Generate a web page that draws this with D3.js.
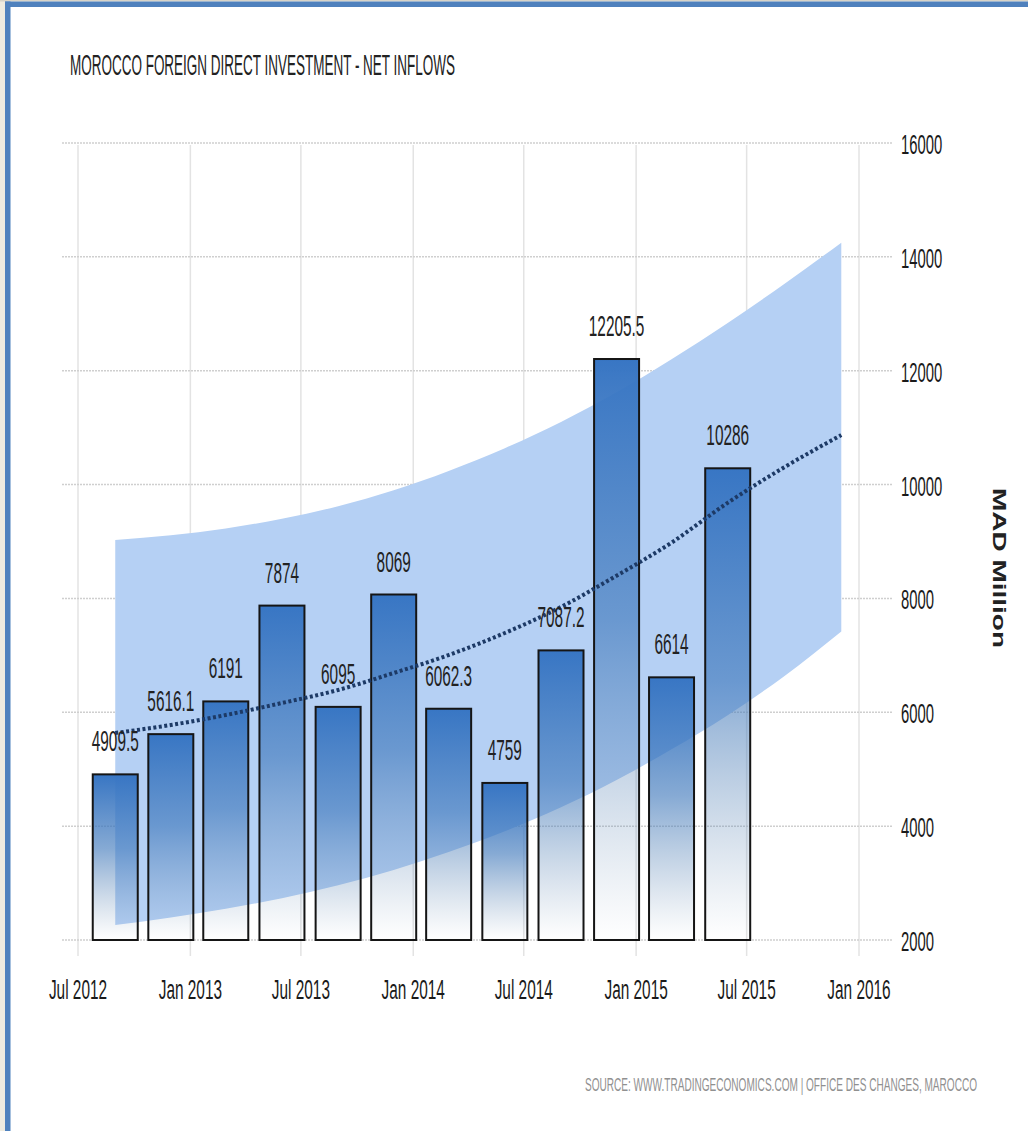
<!DOCTYPE html>
<html>
<head>
<meta charset="utf-8">
<script src="https://cdn.jsdelivr.net/npm/d3@7/dist/d3.min.js"></script>
<style>
  html, body { margin: 0; padding: 0; background: #ffffff; }
  svg { display: block; }
  text { font-family: "Liberation Sans", Arial, sans-serif; }
</style>
</head>
<body>
<svg id="chart" width="1028" height="1131"></svg>
<script>
// ---------- DATA ----------
const categories = ["2012-08-31","2012-11-30","2013-02-28","2013-05-31","2013-08-31","2013-11-30",
                    "2014-02-28","2014-05-31","2014-08-31","2014-11-30","2015-02-28","2015-05-31"];
const values = [4909.5, 5616.1, 6191, 7874, 6095, 8069, 6062.3, 4759, 7087.2, 12205.5, 6614, 10286];
const valueLabels = ["4909.5","5616.1","6191","7874","6095","8069","6062.3","4759","7087.2","12205.5","6614","10286"];

const forecastDates = ["2012-08-31","2012-11-30","2013-02-28","2013-05-31","2013-08-31","2013-11-30",
                       "2014-02-28","2014-05-31","2014-08-31","2014-11-30","2015-02-28","2015-05-31",
                       "2015-08-31","2015-12-03"];
const trendValues = [5636, 5777, 5952, 6163, 6392, 6690, 7006, 7393, 7850, 8400, 8980, 9680, 10300, 10870];
const bandUpper   = [9026, 9110, 9230, 9400, 9620, 9900, 10240, 10640, 11100, 11620, 12200, 12840, 13520, 14250];
const bandLower   = [2263, 2395, 2550, 2735, 2960, 3230, 3545, 3910, 4330, 4810, 5350, 5950, 6630, 7420];

const yTicks = [2000, 4000, 6000, 8000, 10000, 12000, 14000, 16000];
const xTicks = ["2012-07-01","2013-01-01","2013-07-01","2014-01-01","2014-07-01","2015-01-01","2015-07-01","2016-01-01"];
const xTickLabels = ["Jul 2012","Jan 2013","Jul 2013","Jan 2014","Jul 2014","Jan 2015","Jul 2015","Jan 2016"];

const titleText = "MOROCCO FOREIGN DIRECT INVESTMENT - NET INFLOWS";
const sourceText = "SOURCE: WWW.TRADINGECONOMICS.COM | OFFICE DES CHANGES, MAROCCO";
const unitText = "MAD Million";

// ---------- LAYOUT ----------
const parse = d3.timeParse("%Y-%m-%d");
const svg = d3.select("#chart");
const x = d3.scaleTime().domain([parse("2012-07-01"), parse("2016-01-01")]).range([78, 859]);
const y = d3.scaleLinear().domain([2000, 16000]).range([940, 143]);
const barWidth = 45;
const sx = 0.53; // horizontal squeeze of the glyphs

// frame
svg.append("rect").attr("x", 0).attr("y", 0).attr("width", 1028).attr("height", 1131).attr("fill", "#ffffff");
svg.append("rect").attr("x", 0).attr("y", 0).attr("width", 5).attr("height", 1131).attr("fill", "#eeebe0");
svg.append("rect").attr("x", 0).attr("y", 0).attr("width", 1028).attr("height", 1.5).attr("fill", "#d8d4c8");
svg.append("rect").attr("x", 5).attr("y", 1.5).attr("width", 1023).attr("height", 5.5).attr("fill", "#4f81bd");
svg.append("rect").attr("x", 5).attr("y", 1.5).attr("width", 5.5).attr("height", 1130).attr("fill", "#4f81bd");

// defs
const defs = svg.append("defs");
const grad = defs.append("linearGradient").attr("id", "barGrad")
  .attr("x1", 0).attr("y1", 0).attr("x2", 0).attr("y2", 1);
grad.append("stop").attr("offset", "0%").attr("stop-color", "#3876c4").attr("stop-opacity", 1);
grad.append("stop").attr("offset", "45%").attr("stop-color", "#3c76ba").attr("stop-opacity", 0.62);
grad.append("stop").attr("offset", "100%").attr("stop-color", "#6f8fb0").attr("stop-opacity", 0.0);

// gridlines
const grid = svg.append("g");
grid.selectAll("line.v").data(xTicks).join("line")
  .attr("x1", d => x(parse(d))).attr("x2", d => x(parse(d)))
  .attr("y1", 145).attr("y2", 956)
  .attr("stroke", "#e3e3e3").attr("stroke-width", 1.5);
grid.selectAll("line.h").data(yTicks).join("line")
  .attr("x1", 62).attr("x2", 893)
  .attr("y1", d => y(d)).attr("y2", d => y(d))
  .attr("stroke", "#cfcfcf").attr("stroke-width", 1.5).attr("stroke-dasharray", "2,1");

// forecast band
const fData = forecastDates.map((d, i) => ({ date: parse(d), up: bandUpper[i], lo: bandLower[i], t: trendValues[i] }));
const area = d3.area().x(d => x(d.date)).y0(d => y(d.lo)).y1(d => y(d.up)).curve(d3.curveMonotoneX);
svg.append("path").datum(fData).attr("d", area).attr("fill", "#b5d0f4");

// bars
const bars = categories.map((c, i) => ({ date: parse(c), v: values[i], label: valueLabels[i] }));
svg.append("g").selectAll("rect").data(bars).join("rect")
  .attr("x", d => x(d.date) - barWidth / 2)
  .attr("width", barWidth)
  .attr("y", d => y(d.v))
  .attr("height", d => y(2000) - y(d.v))
  .attr("fill", "url(#barGrad)")
  .attr("stroke", "#151515").attr("stroke-width", 2);

// trend line
const line = d3.line().x(d => x(d.date)).y(d => y(d.t)).curve(d3.curveMonotoneX);
svg.append("path").datum(fData).attr("d", line)
  .attr("fill", "none").attr("stroke", "#1d3a66").attr("stroke-width", 4)
  .attr("stroke-dasharray", "3,2.5");

// value labels
svg.append("g").selectAll("g").data(bars).join("g")
  .attr("transform", d => `translate(${x(d.date)},${y(d.v) - 23})`)
  .append("text")
  .attr("transform", `scale(${sx},1)`)
  .attr("text-anchor", "middle")
  .attr("font-size", 29).attr("fill", "#222")
  .text(d => d.label);

// right axis labels
svg.append("g").selectAll("g").data(yTicks).join("g")
  .attr("transform", d => `translate(901,${y(d) + 11})`)
  .append("text")
  .attr("transform", `scale(${sx},1)`)
  .attr("font-size", 28).attr("fill", "#1a1a1a")
  .text(d => d);

// bottom axis labels
svg.append("g").selectAll("g").data(xTicks).join("g")
  .attr("transform", d => `translate(${x(parse(d))},999)`)
  .append("text")
  .attr("transform", `scale(0.55,1)`)
  .attr("text-anchor", "middle")
  .attr("font-size", 28).attr("fill", "#1a1a1a")
  .text((d, i) => xTickLabels[i]);

// title
svg.append("g").attr("transform", "translate(70,75) scale(0.5,1)")
  .append("text").attr("x", 0).attr("y", 0)
  .attr("font-size", 29).attr("fill", "#222")
  .attr("textLength", 770).attr("lengthAdjust", "spacingAndGlyphs")
  .text(titleText);

// unit label
svg.append("text")
  .attr("transform", "translate(993,568) rotate(90)")
  .attr("text-anchor", "middle")
  .attr("font-size", 18).attr("font-weight", "bold").attr("fill", "#222")
  .attr("textLength", 160).attr("lengthAdjust", "spacingAndGlyphs")
  .text(unitText);

// source
svg.append("g").attr("transform", "translate(585,1091) scale(0.5,1)")
  .append("text").attr("x", 0).attr("y", 0)
  .attr("font-size", 19).attr("fill", "#909090")
  .attr("textLength", 784).attr("lengthAdjust", "spacingAndGlyphs")
  .text(sourceText);
</script>
</body>
</html>
